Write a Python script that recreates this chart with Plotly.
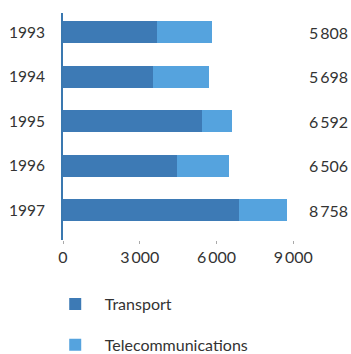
import plotly.graph_objects as go

years = ["1993", "1994", "1995", "1996", "1997"]
transport = [3675, 3535, 5450, 4473, 6870]
telecom = [2133, 2163, 1142, 2033, 1888]
totals = [5808, 5698, 6592, 6506, 8758]
total_labels = ["5\u2009808", "5\u2009698", "6\u2009592", "6\u2009506", "8\u2009758"]
tick_vals = [0, 3000, 6000, 9000]
tick_text = ["0", "3\u2009000", "6\u2009000", "9\u2009000"]

FONT = "Lato"
TXT = "#333333"

fig = go.Figure()
fig.add_trace(go.Bar(y=years, x=transport, orientation="h", name="Transport",
                     marker=dict(color="#3d7ab5", line=dict(width=0)),
                     legendgroup="a"))
fig.add_trace(go.Bar(y=years, x=telecom, orientation="h", name="Telecommunications",
                     marker=dict(color="#55a3de", line=dict(width=0)),
                     legendgroup="b"))

for i, lab in enumerate(total_labels):
    fig.add_annotation(x=1, xref="paper", y=i, yref="y", text=lab, showarrow=False,
                       xanchor="right", xshift=-1,
                       font=dict(family=FONT, size=16, color=TXT))

fig.update_layout(
    width=351, height=354,
    margin=dict(l=63, r=0, t=13, b=114, autoexpand=False),
    barmode="stack", bargap=0.5,
    paper_bgcolor="white", plot_bgcolor="white",
    font=dict(family=FONT, size=16, color=TXT),
    xaxis=dict(range=[0, 11260], tickvals=tick_vals, ticktext=tick_text,
               showgrid=False, zeroline=False, showline=False,
               ticks="outside", ticklen=3, tickcolor="#aaaaaa", tickwidth=1,
               tickfont=dict(family=FONT, size=16, color=TXT)),
    yaxis=dict(type="category", range=[4.67, -0.43], showgrid=False,
               showline=True, linecolor="#3a78b0", linewidth=2,
               ticks="", ticklabelstandoff=13,
               tickfont=dict(family=FONT, size=15.5, color=TXT)),
    legend=dict(x=-0.06, xanchor="left", y=-0.207, yanchor="top",
                traceorder="grouped", tracegroupgap=17,
                font=dict(family=FONT, size=16, color=TXT),
                itemwidth=49),
    showlegend=True,
)

fig.write_html("out.html", config={"displayModeBar": False},
               post_script="document.body.style.margin='0';document.body.style.overflow='hidden';")
